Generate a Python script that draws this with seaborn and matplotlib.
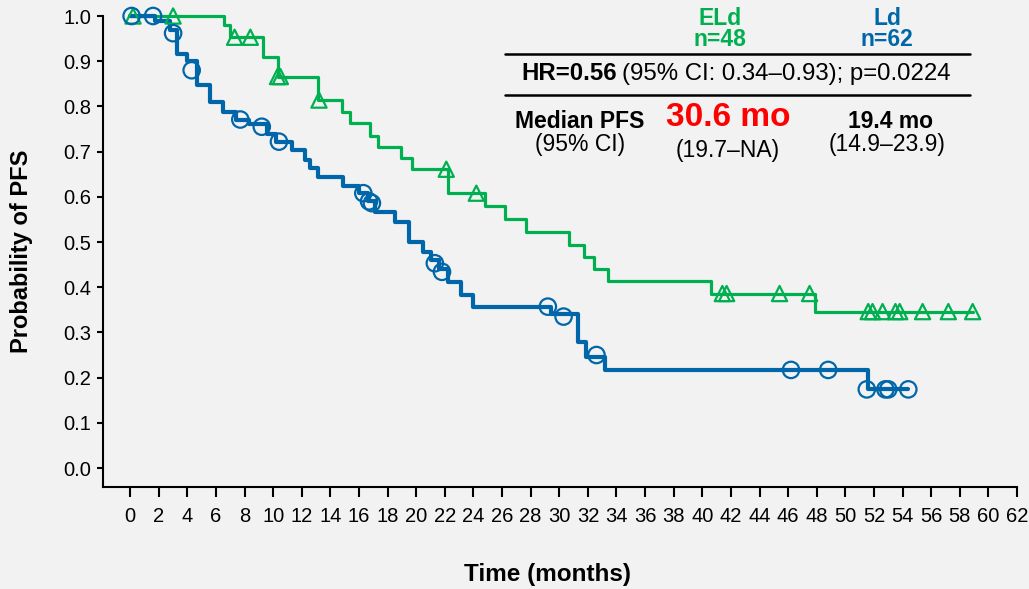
import numpy as np
import pandas as pd
import matplotlib
matplotlib.use("Agg")
import matplotlib.pyplot as plt
import seaborn as sns

# ---------------- data ----------------
eld_times = [0, 6.57, 7.0, 9.3, 10.3, 13.1, 14.8, 15.4, 16.8, 17.3, 18.9, 19.7, 22.25,
             24.8, 26.2, 27.7, 30.65, 31.7, 32.4, 33.4, 40.6, 47.9, 58.9]
eld_surv = [1.0, 0.980, 0.953, 0.910, 0.866, 0.814, 0.788, 0.763, 0.735, 0.711, 0.685,
            0.661, 0.608, 0.580, 0.552, 0.523, 0.493, 0.466, 0.440, 0.414, 0.386, 0.346, 0.346]

ld_times = [0, 1.75, 2.8, 3.3, 4.0, 4.65, 5.6, 6.5, 7.4, 8.3, 9.55, 10.2, 11.3, 12.2, 12.6,
            13.1, 14.9, 16.0, 16.6, 17.1, 18.5, 19.5, 20.5, 21.0, 21.6, 22.2, 23.1, 24.0,
            29.4, 31.3, 31.9, 33.2, 51.6, 54.4]
ld_surv = [1.0, 0.988, 0.969, 0.917, 0.900, 0.847, 0.810, 0.788, 0.771, 0.760, 0.740, 0.722,
           0.703, 0.681, 0.663, 0.643, 0.624, 0.608, 0.590, 0.567, 0.545, 0.500, 0.479, 0.460,
           0.440, 0.412, 0.383, 0.357, 0.341, 0.279, 0.246, 0.217, 0.174, 0.174]

eld_cens_t = [0.2, 3.0, 7.3, 8.4, 10.3, 10.5, 13.2, 22.1, 24.2, 41.4, 41.7, 45.4, 47.5,
              51.6, 51.9, 52.6, 53.5, 53.8, 55.4, 57.2, 58.9]
eld_cens_s = [1.0, 1.0, 0.953, 0.953, 0.866, 0.866, 0.814, 0.661, 0.608, 0.386, 0.386, 0.386,
              0.386, 0.346, 0.346, 0.346, 0.346, 0.346, 0.346, 0.346, 0.346]

ld_cens_t = [0.1, 1.6, 3.0, 4.3, 7.7, 9.2, 10.4, 16.3, 16.7, 16.9, 21.3, 21.8, 29.2, 30.3,
             32.6, 46.2, 48.8, 51.5, 52.8, 53.0, 54.4]
ld_cens_s = [1.0, 1.0, 0.962, 0.880, 0.771, 0.755, 0.722, 0.608, 0.590, 0.586, 0.453, 0.434,
             0.357, 0.335, 0.250, 0.217, 0.217, 0.174, 0.174, 0.174, 0.174]

x_ticks = list(range(0, 63, 2))
y_ticks = [0.0, 0.1, 0.2, 0.3, 0.4, 0.5, 0.6, 0.7, 0.8, 0.9, 1.0]

GREEN = "#00B050"
BLUE = "#0066AA"
BG = "#F2F2F2"

# ---------------- style ----------------
sns.set_theme(style="white", rc={"axes.facecolor": BG, "figure.facecolor": BG})
plt.rcParams["font.family"] = ["Liberation Sans", "DejaVu Sans"]

W, H = 1029, 589
fig = plt.figure(figsize=(W / 100, H / 100), dpi=100)
ax = fig.add_axes([103 / W, 1 - 487 / H, (1017 - 103) / W, (487 - 16) / H])
ax.set_facecolor(BG)

eld_df = pd.DataFrame({"t": eld_times, "s": eld_surv})
ld_df = pd.DataFrame({"t": ld_times, "s": ld_surv})

sns.lineplot(data=eld_df, x="t", y="s", drawstyle="steps-post", color=GREEN, lw=2.3,
             estimator=None, sort=False, ax=ax, clip_on=False, zorder=3)
sns.lineplot(data=ld_df, x="t", y="s", drawstyle="steps-post", color=BLUE, lw=3.0,
             estimator=None, sort=False, ax=ax, clip_on=False, zorder=4)

sns.scatterplot(x=eld_cens_t, y=eld_cens_s, marker="^", s=120, facecolor="none",
                edgecolor=GREEN, linewidth=1.6, ax=ax, clip_on=False, zorder=5)
sns.scatterplot(x=ld_cens_t, y=ld_cens_s, marker="o", s=140, facecolor="none",
                edgecolor=BLUE, linewidth=1.6, ax=ax, clip_on=False, zorder=6)

ax.set_xlim(-1.9, 62)
ax.set_ylim(-0.042, 1.0)
ax.set_xticks(x_ticks)
ax.set_xticklabels([str(v) for v in x_ticks])
ax.set_yticks(y_ticks)
ax.set_yticklabels([f"{v:.1f}" for v in y_ticks])

for side in ["top", "right"]:
    ax.spines[side].set_visible(False)
for side in ["left", "bottom"]:
    ax.spines[side].set_color("black")
    ax.spines[side].set_linewidth(1.5)

ax.tick_params(axis="y", direction="out", length=4.5, width=1.5, pad=4, labelsize=14.5,
               colors="black", left=True)
ax.tick_params(axis="x", direction="out", length=7.5, width=1.5, pad=7, labelsize=14.5,
               colors="black", bottom=True)

ax.set_xlabel("")
ax.set_ylabel("")


def fx(px):
    return px / W


def fy(py):
    return 1 - py / H


fig.text(fx(548), fy(575), "Time (months)", ha="center", va="center", fontsize=17.5,
         fontweight="bold", color="black")
fig.text(fx(22), fy(251), "Probability of PFS", ha="center", va="center", fontsize=17,
         fontweight="bold", color="black", rotation=90)

# legend / stats table
fig.text(fx(720), fy(29), "ELd\nn=48", ha="center", va="center", fontsize=16.5,
         fontweight="bold", color=GREEN, linespacing=0.88)
fig.text(fx(887), fy(29), "Ld\nn=62", ha="center", va="center", fontsize=16.5,
         fontweight="bold", color=BLUE, linespacing=0.88)

for py in (53.5, 95):
    fig.add_artist(plt.Line2D([fx(505), fx(970)], [fy(py), fy(py)], color="black", lw=1.8))

fig.text(fx(617), fy(74), "HR=0.56", ha="right", va="center", fontsize=17.3,
         fontweight="bold", color="black")
fig.text(fx(622), fy(74), "(95% CI: 0.34\u20130.93); p=0.0224", ha="left", va="center",
         fontsize=17.3, color="black")

fig.text(fx(580), fy(122), "Median PFS", ha="center", va="center", fontsize=16.5,
         fontweight="bold", color="black")
fig.text(fx(580), fy(144), "(95% CI)", ha="center", va="center", fontsize=16.5,
         color="black")
fig.text(fx(728), fy(118), "30.6 mo", ha="center", va="center", fontsize=24,
         fontweight="bold", color="#FF0000")
fig.text(fx(728), fy(150), "(19.7\u2013NA)", ha="center", va="center", fontsize=16.5,
         color="black")
fig.text(fx(890), fy(122), "19.4 mo", ha="center", va="center", fontsize=16.5,
         fontweight="bold", color="black")
fig.text(fx(887), fy(144), "(14.9\u201323.9)", ha="center", va="center", fontsize=16.5,
         color="black")

fig.savefig("out.png", dpi=100, facecolor=BG)
